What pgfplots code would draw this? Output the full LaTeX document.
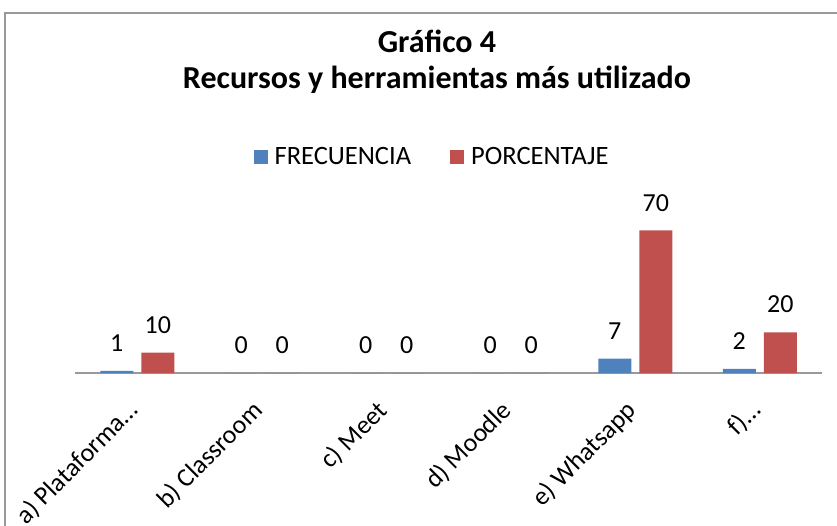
\documentclass[border=0pt]{standalone}
\usepackage{pgfplots}
\pgfplotsset{compat=1.18}
\usepackage{fontspec}
\setmainfont{Carlito}
\definecolor{xblue}{HTML}{4F81BD}
\definecolor{xred}{HTML}{C0504D}
\begin{document}
\begin{tikzpicture}
\useasboundingbox (0pt,0pt) rectangle (837pt,525pt);
\draw[black!40, line width=1.5pt] (5pt,-5pt) -- (5pt,512pt) -- (845pt,512pt);
\node[font=\fontsize{32}{38}\selectfont\bfseries] at (437pt,484pt) {Gráfico 4};
\node[font=\fontsize{32}{38}\selectfont\bfseries] at (437pt,445pt) {Recursos y herramientas más utilizado};
\begin{axis}[
  at={(75pt,152pt)}, anchor=south west,
  width=747pt, height=163pt, scale only axis,
  xmin=-0.5, xmax=5.5, ymin=0, ymax=80,
  enlargelimits=false,
  axis x line=bottom, axis y line=none,
  x axis line style={black!40, line width=1.2pt, -},
  xtick={0,1,2,3,4,5},
  xticklabels={{a) Plataforma…\hspace{-47pt}},{b) Classroom},{c) Meet},{d) Moodle},{e) Whatsapp},{f)…\hspace{-46pt}}},
  xtick style={draw=none},
  xticklabel style={font=\fontsize{26}{30}\selectfont, inner sep=0pt, rotate=45, anchor=north east, xshift=-23pt, yshift=-7pt},
  ytick=\empty,
  ybar=8pt, bar width=33pt,
  /pgf/number format/assume math mode=true,
  nodes near coords,
  nodes near coords style={font=\fontsize{26}{30}\selectfont, anchor=south, inner sep=0pt, yshift=19pt},
  legend style={at={(axis description cs:0.478,1.325)}, anchor=center, draw=none, fill=none,
    legend columns=2, font=\fontsize{26.5}{30}\selectfont,
    /tikz/every odd column/.append style={column sep=5pt},
    /tikz/every even column/.append style={column sep=37pt}},
  legend image code/.code={\fill[#1] (0pt,-7pt) rectangle (14pt,7pt);},
]
\addplot[fill=xblue, draw=none] coordinates {(0,1) (1,0) (2,0) (3,0) (4,7) (5,2)};
\addplot[fill=xred, draw=none] coordinates {(0,10) (1,0) (2,0) (3,0) (4,70) (5,20)};
\legend{FRECUENCIA, PORCENTAJE}
\end{axis}
\end{tikzpicture}
\end{document}
